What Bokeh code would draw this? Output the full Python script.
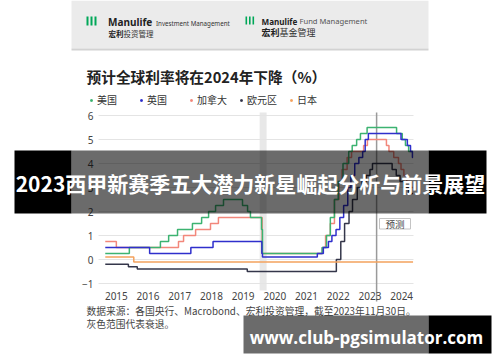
from bokeh.plotting import figure
from bokeh.models import Range1d, Label, BoxAnnotation, Legend, LegendItem, FixedTicker
from bokeh.embed import file_html
from bokeh.resources import INLINE

# ---------------- data ----------------
year_labels = ["2015", "2016", "2017", "2018", "2019", "2020", "2021", "2022", "2023", "2024"]
year_tick_pos = [2015.5, 2016.5, 2017.5, 2018.5, 2019.5, 2020.5, 2021.5, 2022.5, 2023.5, 2024.5]
y_ticks = [-1, 0, 1, 2, 3, 4, 5, 6]

series_names = ["美国", "英国", "加拿大", "欧元区", "日本"]

us_t = [2015.15, 2015.91, 2016.89, 2017.15, 2017.43, 2017.90, 2018.19, 2018.41, 2018.63, 2018.88,
        2019.48, 2019.64, 2019.73, 2020.08, 2020.11, 2021.99, 2022.13, 2022.25, 2022.38, 2022.50,
        2022.65, 2022.83, 2022.94, 2023.08, 2023.20, 2023.41, 2024.34, 2024.52, 2024.62, 2024.72]
us_v = [0.25, 0.5, 0.75, 1.0, 1.25, 1.5, 1.75, 2.0, 2.25, 2.5,
        2.25, 2.0, 1.75, 1.25, 0.25, 0.5, 1.0, 1.75, 2.5, 3.25,
        4.0, 4.5, 4.75, 5.0, 5.25, 5.5, 5.25, 5.0, 4.75, 4.5]

uk_t = [2015.15, 2016.55, 2017.85, 2018.55, 2020.09, 2020.11, 2021.84, 2022.03, 2022.19, 2022.30,
        2022.43, 2022.55, 2022.67, 2022.80, 2022.90, 2023.02, 2023.15, 2023.27, 2023.35, 2023.45,
        2024.48, 2024.68, 2024.78, 2024.84]
uk_v = [0.5, 0.25, 0.5, 0.75, 0.25, 0.1, 0.25, 0.5, 0.75, 1.0,
        1.25, 1.75, 2.25, 3.0, 3.5, 4.0, 4.25, 4.5, 5.0, 5.25,
        5.0, 4.75, 4.5, 4.25]

ca_t = [2015.15, 2015.50, 2017.46, 2017.62, 2018.00, 2018.47, 2018.72, 2020.10, 2022.00, 2022.10,
        2022.25, 2022.38, 2022.52, 2022.62, 2022.78, 2022.92, 2023.30, 2023.42, 2024.02, 2024.10,
        2024.25, 2024.40, 2024.48, 2024.57, 2024.66, 2024.76]
ca_v = [0.75, 0.5, 0.75, 1.0, 1.25, 1.5, 1.75, 0.25, 0.5, 1.0,
        1.5, 2.5, 3.25, 3.75, 4.25, 4.5, 4.75, 5.0, 4.75, 4.5,
        4.25, 4.0, 3.75, 3.5, 3.25, 3.0]

eu_t = [2015.15, 2015.88, 2016.16, 2019.63, 2022.44, 2022.58, 2022.70, 2022.84, 2022.95, 2023.10,
        2023.25, 2023.38, 2023.50, 2023.58, 2024.20, 2024.33, 2024.45, 2024.58, 2024.72]
eu_v = [-0.2, -0.3, -0.4, -0.5, 0.0, 0.75, 1.5, 2.0, 2.5, 3.0,
        3.25, 3.5, 3.75, 4.0, 3.75, 3.5, 3.25, 3.0, 2.75]

jp_t = [2015.15, 2016.05]
jp_v = [0.1, -0.1]

series_end = 2024.86
forecast_start = 2023.71
recession = (2020.02, 2020.24)

colors = {"美国": "#3cb371", "英国": "#2f2fcc", "加拿大": "#f2877b", "欧元区": "#34364a", "日本": "#f4a25e"}

# ---------------- layout (pixel geometry of the canvas) ----------------
W, H = 500, 362
PLOT_L, PLOT_R, PLOT_T, PLOT_B = 98, 413, 112, 290
X0_PX, PX_PER_YEAR = 100.0, 31.7       # where 2015.0 sits, and year width
Y0_PX, PX_PER_UNIT = 259.0, 24.0       # where 0 % sits, and unit height


def yr(px):
    return 2015 + (px - X0_PX) / PX_PER_YEAR


def val(py):
    return (Y0_PX - py) / PX_PER_UNIT


p = figure(width=W, height=H, output_backend="svg", toolbar_location=None,
           x_range=Range1d(yr(0), yr(W)), y_range=Range1d(val(H), val(0)),
           min_border_left=0, min_border_right=0, min_border_top=0, min_border_bottom=0)
p.outline_line_color = None
p.background_fill_color = "white"
p.border_fill_color = "white"
p.xgrid.grid_line_color = None
p.ygrid.grid_line_color = None

for ax in (p.xaxis[0], p.yaxis[0]):
    ax.axis_line_color = None
    ax.major_tick_line_color = None
    ax.minor_tick_line_color = None
    ax.major_tick_in = 0
    ax.major_tick_out = 0
    ax.major_label_text_font = "Noto Sans"
    ax.major_label_text_font_size = "10px"
    ax.major_label_text_color = "#444444"
p.xaxis.ticker = FixedTicker(ticks=year_tick_pos)
p.xaxis.major_label_overrides = {t: l for t, l in zip(year_tick_pos, year_labels)}
p.xaxis.major_label_standoff = 1
p.xaxis.fixed_location = val(PLOT_B)
p.yaxis.ticker = FixedTicker(ticks=y_ticks)
p.yaxis.major_label_standoff = 5
p.yaxis.fixed_location = yr(PLOT_L)

# recession band and grid
p.add_layout(BoxAnnotation(left=recession[0], right=recession[1], top=val(PLOT_T), bottom=val(PLOT_B),
                           fill_color="#e8e8e8", fill_alpha=1, line_color=None, level="underlay"))
p.segment(x0=[yr(PLOT_L)] * len(y_ticks), x1=[yr(PLOT_R)] * len(y_ticks), y0=y_ticks, y1=y_ticks,
          line_color="#e4e4e4", line_width=1)
p.segment(x0=[forecast_start], x1=[forecast_start], y0=[val(PLOT_T)], y1=[val(301)],
          line_color="#9a9a9a", line_width=1.5)

data = {"加拿大": (ca_t, ca_v), "美国": (us_t, us_v), "英国": (uk_t, uk_v),
        "欧元区": (eu_t, eu_v), "日本": (jp_t, jp_v)}
for name in ["加拿大", "美国", "英国", "欧元区", "日本"]:
    t, v = data[name]
    p.step(x=t + [series_end], y=v + [v[-1]], mode="after", line_color=colors[name], line_width=1.5)


def sx(ix):
    return ix


def sy(iy):
    return H - iy


def box(ix0, ix1, iy0, iy1, color, alpha=1.0, line=None):
    p.add_layout(BoxAnnotation(left=sx(ix0), right=sx(ix1), top=sy(iy0), bottom=sy(iy1),
                               left_units="screen", right_units="screen",
                               top_units="screen", bottom_units="screen",
                               fill_color=color, fill_alpha=alpha,
                               line_color=line, line_alpha=1.0))


def lab(text, ix, iy, size, color="#333333", bold=False, align="left",
        font="Noto Sans CJK SC"):
    p.add_layout(Label(x=sx(ix), y=sy(iy), x_units="screen", y_units="screen", text=text,
                       text_font=font, text_font_size=f"{size}px", text_color=color,
                       text_font_style="bold" if bold else "normal",
                       text_align=align, text_baseline="middle"))


# header band
box(71, 428, 0, 48, "#ebebeb")
box(71, 428, 48, 50, "#d2d2d2")
for x0 in (86, 90, 94):
    box(x0, x0 + 2, 16, 25, "#00a758")
for x0 in (245, 248.5, 252):
    box(x0, x0 + 1.6, 16, 24, "#00a758")
lab("Manulife", 107.5, 21.5, 10, "#222222", True, font="Noto Sans")
lab("Investment Management", 155.5, 23, 6.2, "#333333", font="Noto Sans")
lab("宏利", 108, 32.5, 7.5, "#222222", True)
lab("投资管理", 123, 32.5, 7.5, "#333333")
lab("Manulife", 261, 20.5, 8.1, "#222222", True, font="Noto Sans")
lab("Fund Management", 299, 20.5, 7.6, "#555555", font="Noto Sans")
lab("宏利", 261, 32, 9, "#222222", True)
lab("基金管理", 279, 32, 9, "#333333")

# title
lab("预计全球利率将在2024年下降（%）", 86, 76, 14.7, "#222222", True)

# legend (square swatches; the proxy renderers hold no visible point)
nan = float("nan")
items = []
for name in series_names:
    r = p.scatter(x=[nan], y=[nan], marker="square", size=4, fill_color=colors[name], line_color=colors[name])
    items.append(LegendItem(label=name, renderers=[r]))
legend = Legend(items=items, location=(sx(89), sy(107)), orientation="horizontal",
                glyph_width=4, glyph_height=12, label_standoff=4, label_width=42, label_height=12,
                spacing=0, padding=0, margin=0, border_line_color=None, background_fill_alpha=0,
                label_text_font="Noto Sans CJK SC", label_text_font_size="10px",
                label_text_color="#333333")
p.add_layout(legend, "center")

# forecast tag
box(379, 410, 218, 228.5, "white", 1.0, "#c4c4c4")
lab("预测", 394.5, 223.3, 9.5, "#444444", align="center")

# footnote
lab("数据来源：各国央行、Macrobond、宏利投资管理，截至2023年11月30日。", 86, 310.5, 9.75, "#444444")
lab("灰色范围代表衰退。", 86, 323.5, 9.75, "#444444")

# overlay banners
box(14, 71, 150, 213, "black", 1.0)
box(71, 428, 150, 213, "black", 0.58)
box(428, 486, 150, 213, "black", 1.0)
lab("2023西甲新赛季五大潜力新星崛起分析与前景展望", 250, 182.5, 21, "white", True, align="center")

box(243, 428, 315, 353, "black", 0.58)
box(428, 491, 315, 353, "black", 1.0)
lab("www.club-pgsimulator.com", 366, 336.5, 17, "white", True, align="center", font="Open Sans")

open("out.html", "w").write(file_html(p, INLINE))
